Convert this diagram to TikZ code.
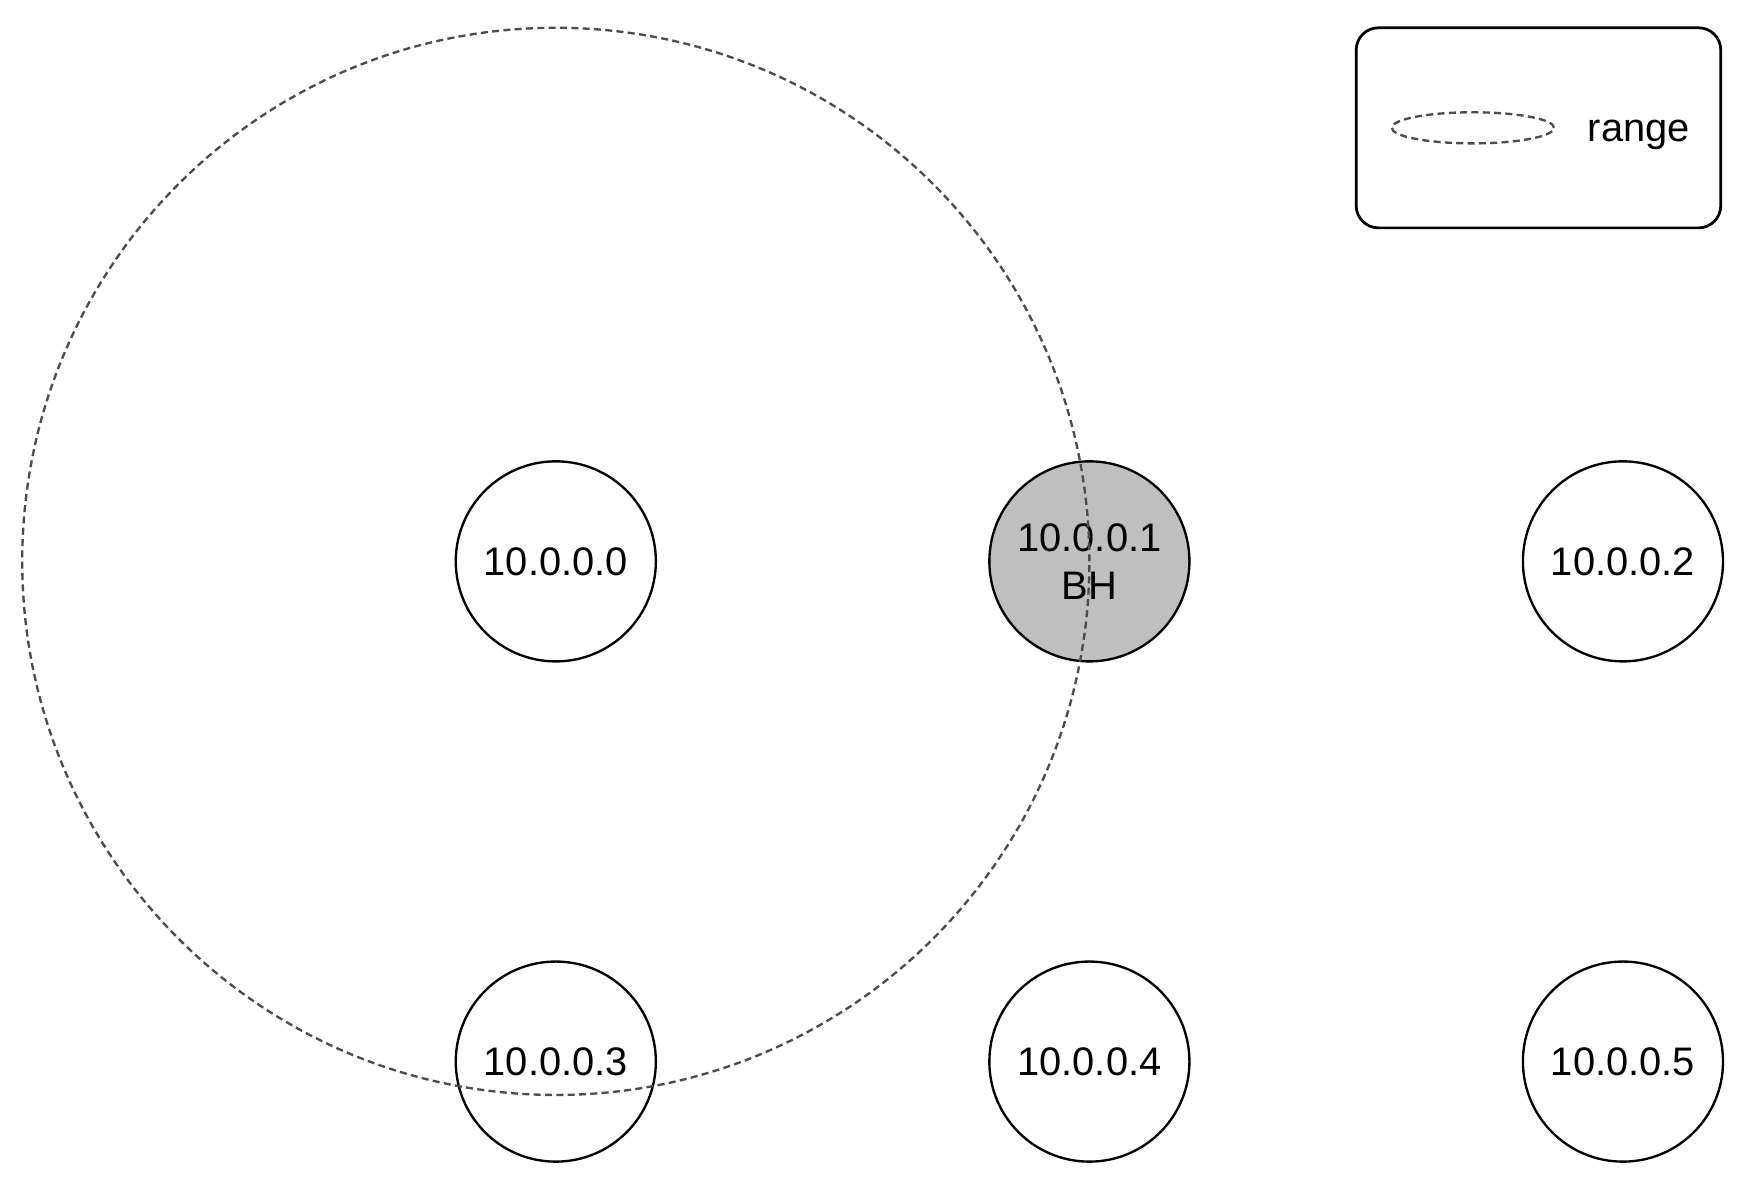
\documentclass[tikz,border=0pt]{standalone}
\usepackage{fontspec}
\setmainfont{Liberation Sans}
\usetikzlibrary{positioning, shapes.geometric}

\begin{document}
\begin{tikzpicture}[
    node distance=2.7cm and 3cm,
    host/.style={circle, minimum size=1.8cm, inner sep=0pt, outer sep=0pt, draw=black, line width=0.6pt, fill=white, align=center, font=\fontsize{10.2}{12.2}\selectfont},
    blackhole/.style={host, fill=black!25},
    rangeline/.style={draw=black!70, dashed, dash pattern=on 1.8pt off 1.1pt, line width=0.6pt},
    legendbox/.style={rectangle, rounded corners=0.2cm, draw=black, line width=0.7pt, minimum width=3.28cm, minimum height=1.8cm}
]
\useasboundingbox (0,0) rectangle (15.68,-10.625);

% nodes
\node (n0) [host] at (5.0,-5.05) {10.0.0.0};
\node (n1) [blackhole, right=of n0] {10.0.0.1\\BH};
\node (n2) [host, right=of n1] {10.0.0.2};
\node (n3) [host, below=of n0] {10.0.0.3};
\node (n4) [host, right=of n3] {10.0.0.4};
\node (n5) [host, right=of n4] {10.0.0.5};

% range of 10.0.0.0
\draw [rangeline] (n0.center) circle (4.8cm);

% legend
\node (legend) [legendbox] at (13.84,-1.15) {};
\node (legendrange) [ellipse, rangeline, minimum width=1.46cm, minimum height=0.28cm, inner sep=0pt] at (13.25,-1.15) {};
\node (legendtext) [right=0.17cm of legendrange, yshift=-0.06cm, font=\fontsize{10.2}{12.2}\selectfont] {range};

\end{tikzpicture}
\end{document}
